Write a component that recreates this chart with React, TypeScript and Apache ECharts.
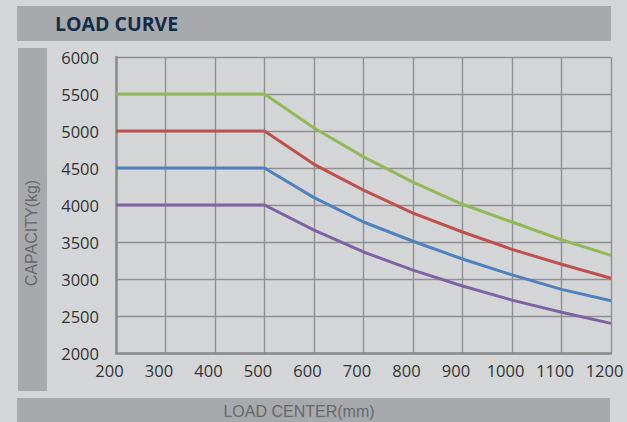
import React, { useEffect, useRef } from "react";
import * as echarts from "echarts";

const loadCenters = [200, 300, 400, 500, 600, 700, 800, 900, 1000, 1100, 1200];
const greenCapacity = [5500, 5500, 5500, 5500, 5040, 4650, 4310, 4010, 3770, 3530, 3320];
const redCapacity = [5000, 5000, 5000, 5000, 4550, 4200, 3890, 3635, 3400, 3200, 3010];
const blueCapacity = [4500, 4500, 4500, 4500, 4100, 3770, 3510, 3270, 3055, 2860, 2705];
const purpleCapacity = [4000, 4000, 4000, 4000, 3660, 3365, 3120, 2905, 2715, 2550, 2400];

const seriesDefs = [
  { name: "5.5t", values: greenCapacity, color: "#92b957" },
  { name: "5.0t", values: redCapacity, color: "#c0504d" },
  { name: "4.5t", values: blueCapacity, color: "#4f81bd" },
  { name: "4.0t", values: purpleCapacity, color: "#7f62a3" },
];

const titleText = "LOAD CURVE";
const xAxisTitle = "LOAD CENTER(mm)";
const yAxisTitle = "CAPACITY(kg)";

export default function App() {
  const ref = useRef<HTMLDivElement>(null);

  useEffect(() => {
    if (!ref.current) return;
    const chart = echarts.init(ref.current, null, { renderer: "svg" });
    const bandColor = "#a8a9ac";
    const plain = (v: number) => String(v);
    chart.setOption({
      animation: false,
      backgroundColor: "#d4d5d7",
      grid: { left: 116, right: 16, top: 57, bottom: 69, containLabel: false },
      graphic: [
        { type: "rect", shape: { x: 17, y: 6, width: 594, height: 35 }, style: { fill: bandColor }, z: 0 },
        { type: "rect", shape: { x: 18, y: 48, width: 29, height: 343 }, style: { fill: bandColor }, z: 0 },
        { type: "rect", shape: { x: 17, y: 398, width: 593, height: 30 }, style: { fill: bandColor }, z: 0 },
        {
          type: "text",
          x: 55,
          y: 23.5,
          z: 1,
          style: {
            text: titleText,
            fill: "#0f2d4b",
            font: "bold 19.5px 'Open Sans', 'Noto Sans', sans-serif",
            textAlign: "left",
            textVerticalAlign: "middle",
          },
        },
        {
          type: "text",
          x: 299,
          y: 411,
          z: 1,
          style: {
            text: xAxisTitle,
            fill: "#66676a",
            font: "16px 'Liberation Sans', Arial, sans-serif",
            textAlign: "center",
            textVerticalAlign: "middle",
          },
        },
        {
          type: "text",
          x: 31,
          y: 233,
          rotation: Math.PI / 2,
          z: 1,
          style: {
            text: yAxisTitle,
            fill: "#66676a",
            font: "16px 'Liberation Sans', Arial, sans-serif",
            textAlign: "center",
            textVerticalAlign: "middle",
          },
        },
      ],
      xAxis: {
        type: "value",
        min: 200,
        max: 1200,
        interval: 100,
        axisLine: { show: true, onZero: false, lineStyle: { color: "#8a8b8d", width: 2.5 } },
        axisTick: { show: false },
        splitLine: { show: true, lineStyle: { color: "#8f9092", width: 1.4 } },
        axisLabel: {
          color: "#333333",
          fontSize: 16.5,
          fontFamily: "'Open Sans', 'Noto Sans', sans-serif",
          margin: 9,
          padding: [0, 13, 0, 0],
          formatter: plain,
        },
      },
      yAxis: {
        type: "value",
        min: 2000,
        max: 6000,
        interval: 500,
        axisLine: { show: true, onZero: false, lineStyle: { color: "#8a8b8d", width: 2.5 } },
        axisTick: { show: false },
        splitLine: { show: true, lineStyle: { color: "#8f9092", width: 1.4 } },
        axisLabel: {
          color: "#333333",
          fontSize: 16.5,
          fontFamily: "'Open Sans', 'Noto Sans', sans-serif",
          margin: 17,
          padding: [0, 0, 8, 0],
          formatter: plain,
        },
      },
      series: seriesDefs.map((s) => ({
        name: s.name,
        type: "line",
        data: loadCenters.map((x, i) => [x, s.values[i]]),
        showSymbol: false,
        symbol: "none",
        lineStyle: { color: s.color, width: 3 },
        itemStyle: { color: s.color },
        z: 3,
      })),
    });
    return () => chart.dispose();
  }, []);

  return (
    <div
      ref={ref}
      style={{ position: "fixed", left: 0, top: 0, width: 627, height: 422 }}
    />
  );
}
